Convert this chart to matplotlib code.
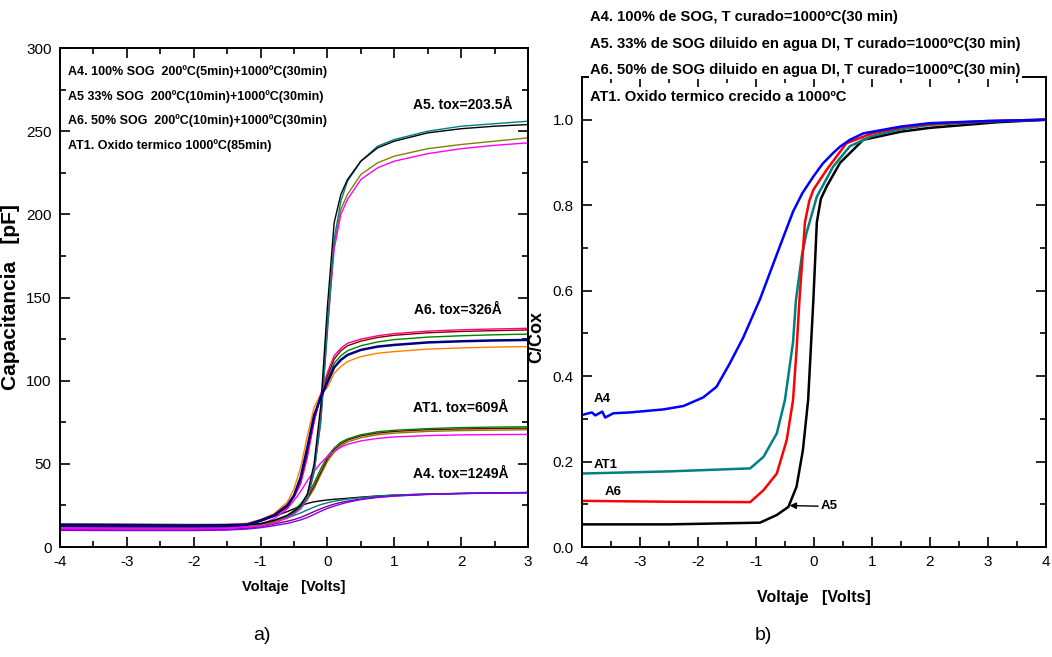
import numpy as np
import matplotlib
matplotlib.use('Agg')
import matplotlib.pyplot as plt
from matplotlib.ticker import MultipleLocator, FormatStrFormatter

plt.rcParams['font.family'] = ['Liberation Sans', 'DejaVu Sans']
plt.rcParams['axes.unicode_minus'] = False

# ---- (a) C-V curves, capacitance in pF ----
v_left = [-4, -3, -2, -1.5, -1.2, -1.0, -0.8, -0.6, -0.5, -0.4, -0.3, -0.2,
          -0.1, 0.0, 0.1, 0.2, 0.3, 0.5, 0.75, 1.0, 1.5, 2.0, 2.5, 3.0]

# A5 group (tox=203.5 A)
a5_black = [13.5, 13.3, 13.2, 13.3, 13.5, 14, 16, 19, 21.5, 25, 32, 50, 85, 145,
            195, 212, 221, 232, 240, 244, 249, 251.5, 253, 254]
a5_teal = [13.8, 13.6, 13.5, 13.5, 13.7, 14.2, 16, 18.5, 21, 24, 30, 45, 75, 130,
           185, 208, 220, 232, 241, 245, 250, 253, 254.5, 256]
a5_olive = [12.5, 12.3, 12.3, 12.4, 12.6, 13, 15, 18, 20.5, 24, 30, 46, 78, 135,
            182, 203, 212, 224, 231, 235, 239.5, 242, 244, 246]
a5_magenta = [12.0, 11.8, 11.8, 12, 12.2, 12.7, 14.5, 17.5, 20, 23, 29, 45, 76, 132,
              179, 200, 209, 221, 228, 232, 236.5, 239.5, 241.5, 243]

# A6 group (tox=326 A)
a6_pink = [14, 13.7, 13.5, 13.6, 14, 16, 19.5, 25.5, 30, 38, 54, 75, 92, 105,
           115, 119.5, 122.5, 125, 127, 128.3, 129.8, 130.6, 131.1, 131.5]
a6_darkred = [13.8, 13.5, 13.3, 13.4, 13.8, 15.5, 18.5, 24, 30, 40, 56, 76, 91, 103,
              113, 118, 121, 123.8, 126, 127.3, 128.8, 129.6, 130.1, 130.5]
a6_green = [13.2, 13.0, 12.9, 13.1, 13.6, 16, 19, 25, 31, 41, 58, 78, 91, 101,
            110.5, 115, 118, 121, 123.3, 124.7, 126.2, 127, 127.6, 128]
a6_navy = [12.8, 12.6, 12.5, 12.7, 13.4, 16, 19, 25, 31, 42, 60, 79, 90, 99,
           108, 112.5, 115.5, 118.5, 120.5, 121.5, 123, 123.7, 124.2, 124.5]
a6_orange = [13.5, 13.3, 13.2, 13.5, 14.3, 16.5, 20, 27, 35, 48, 67, 84, 92, 96,
             104.5, 108.5, 111.5, 114.5, 116.5, 117.5, 119, 119.7, 120.2, 120.5]

# AT1 group (tox=609 A)
at1_green = [12.5, 12.3, 12.2, 12.4, 12.8, 13.5, 15.5, 19, 22, 26, 31, 38.5, 47, 54.5,
             59.5, 63, 65, 67.5, 69.3, 70.2, 71.2, 71.8, 72.1, 72.3]
at1_darkred = [12.8, 12.6, 12.5, 12.6, 13, 13.5, 15.2, 18.5, 21, 24.5, 29.5, 36.5, 45, 53,
               58.5, 62, 64.3, 66.8, 68.5, 69.5, 70.5, 71, 71.3, 71.5]
at1_olive = [11.5, 11.3, 11.3, 11.5, 11.9, 12.6, 14.5, 17.5, 20, 23.5, 28.5, 35, 43.5, 51.5,
             57, 60.8, 63.2, 65.7, 67.5, 68.5, 69.5, 70, 70.3, 70.5]
at1_magenta = [11.0, 10.8, 10.8, 11.2, 12, 13.5, 17, 23, 28, 33.5, 40, 45.5, 50.5, 54.5,
               57.5, 60, 61.8, 63.8, 65.3, 66.2, 67, 67.4, 67.6, 67.7]

# A4 group (tox=1249 A)
a4_black = [11.5, 11.3, 11.3, 11.8, 13.2, 15.5, 18.5, 21.3, 23, 24.8, 26.2, 27.2, 27.8,
            28.3, 28.7, 29, 29.3, 30, 30.7, 31.2, 31.8, 32.2, 32.5, 32.7]
a4_teal = [10.3, 10.2, 10.2, 10.6, 11.6, 13, 15, 17.5, 19, 20.5, 22.3, 24, 25.5, 26.6,
           27.5, 28.2, 28.8, 29.7, 30.6, 31.2, 31.9, 32.3, 32.6, 32.8]
a4_purple = [10.5, 10.3, 10.3, 10.6, 11.3, 12.2, 13.8, 15.5, 16.5, 17.8, 19.5, 21.3, 23,
             24.5, 25.8, 26.8, 27.6, 28.9, 30, 30.8, 31.7, 32.2, 32.5, 32.7]
a4_violet = [10.0, 9.9, 9.9, 10.2, 10.8, 11.6, 12.8, 14.2, 15.2, 16.3, 17.8, 19.6, 21.5,
             23.2, 24.6, 25.8, 26.9, 28.5, 29.8, 30.6, 31.6, 32.1, 32.5, 32.7]

left_notes = ['A4. 100% SOG  200ºC(5min)+1000ºC(30min)',
              'A5 33% SOG  200ºC(10min)+1000ºC(30min)',
              'A6. 50% SOG  200ºC(10min)+1000ºC(30min)',
              'AT1. Oxido termico 1000ºC(85min)']
tox_labels = ['A5. tox=203.5Å', 'A6. tox=326Å', 'AT1. tox=609Å', 'A4. tox=1249Å']
tox_x = [2.76, 2.6, 2.7, 2.7]
tox_y = [266, 142.5, 83.6, 43.9]

# ---- (b) normalised C/Cox ----
v_a4 = [-4.0, -3.83, -3.77, -3.65, -3.6, -3.46, -3.17, -2.6, -2.25, -1.91, -1.68,
        -1.45, -1.22, -0.93, -0.59, -0.36, -0.2, -0.01, 0.15, 0.33, 0.45, 0.62, 0.85,
        1.5, 2.0, 3.0, 4.0]
r_a4 = [0.309, 0.315, 0.308, 0.317, 0.303, 0.313, 0.315, 0.322, 0.330, 0.350, 0.375,
        0.430, 0.490, 0.580, 0.703, 0.785, 0.828, 0.867, 0.897, 0.922, 0.937, 0.953,
        0.968, 0.984, 0.992, 0.997, 1.0]
v_at1 = [-4.0, -2.5, -1.1, -0.87, -0.64, -0.5, -0.36, -0.31, -0.21, -0.13, 0.05,
         0.33, 0.62, 1.0, 1.5, 2.0, 3.0, 4.0]
r_at1 = [0.172, 0.177, 0.184, 0.211, 0.266, 0.344, 0.48, 0.578, 0.68, 0.734, 0.82,
         0.89, 0.938, 0.962, 0.978, 0.988, 0.996, 1.0]
v_a6 = [-4.0, -2.5, -1.1, -0.87, -0.64, -0.47, -0.36, -0.3, -0.25, -0.155, -0.08,
        -0.01, 0.22, 0.56, 1.0, 1.5, 2.0, 3.0, 4.0]
r_a6 = [0.108, 0.106, 0.105, 0.133, 0.172, 0.25, 0.344, 0.461, 0.578, 0.76, 0.81,
        0.836, 0.883, 0.945, 0.968, 0.982, 0.99, 0.997, 1.0]
v_a5 = [-4.0, -2.5, -0.93, -0.64, -0.44, -0.3, -0.19, -0.1, -0.04, -0.01, 0.05,
        0.12, 0.22, 0.45, 0.62, 0.85, 1.5, 2.0, 3.15, 4.0]
r_a5 = [0.053, 0.053, 0.057, 0.075, 0.094, 0.141, 0.227, 0.344, 0.5, 0.578, 0.76,
        0.815, 0.844, 0.899, 0.922, 0.953, 0.972, 0.981, 0.994, 1.0]

right_notes = ['A4. 100% de SOG, T curado=1000ºC(30 min)',
               'A5. 33% de SOG diluido en agua DI, T curado=1000ºC(30 min)',
               'A6. 50% de SOG diluido en agua DI, T curado=1000ºC(30 min)',
               'AT1. Oxido termico crecido a 1000ºC']


def style_axes(ax):
    ax.tick_params(which='both', direction='in', top=True, right=True,
                   labelsize=11, width=1.2, pad=6)
    ax.tick_params(which='major', length=7)
    ax.tick_params(which='minor', length=4)
    for s in ax.spines.values():
        s.set_linewidth(1.4)


fig = plt.figure(figsize=(10.52, 6.57), dpi=100)

# (a)
ax = fig.add_axes([0.057, 0.1674, 0.445, 0.7595])
curves_left = [
    (a4_black, 'black'), (a4_teal, '#008080'), (a4_purple, '#800080'), (a4_violet, '#8000ff'),
    (at1_olive, '#808000'), (at1_darkred, '#800000'), (at1_green, '#008000'), (at1_magenta, '#ff00ff'),
    (a6_orange, '#ff8000'), (a6_green, '#008000'), (a6_darkred, '#800000'), (a6_pink, '#ff0080'),
    (a5_olive, '#808000'), (a5_magenta, '#ff00ff'), (a5_teal, '#008080'), (a5_black, 'black'),
]
for y, c in curves_left:
    ax.plot(v_left, y, color=c, lw=1.0)
ax.plot(v_left, a6_navy, color='#000080', lw=1.8)
ax.set_xlim(-4, 3)
ax.set_ylim(0, 300)
ax.xaxis.set_major_locator(MultipleLocator(1))
ax.xaxis.set_minor_locator(MultipleLocator(0.5))
ax.yaxis.set_major_locator(MultipleLocator(50))
ax.yaxis.set_minor_locator(MultipleLocator(25))
style_axes(ax)
ax.set_xlabel('Voltaje   [Volts]', fontsize=10.5, fontweight='bold', labelpad=8)
ax.set_ylabel('Capacitancia   [pF]', fontsize=15, fontweight='bold')
ax.yaxis.set_label_coords(-0.085, 0.501)
for i, t in enumerate(left_notes):
    ax.text(0.018, 0.952 - i * 0.049, t, transform=ax.transAxes, fontsize=9,
            fontweight='bold', va='center')
for t, xv, yv in zip(tox_labels, tox_x, tox_y):
    ax.text(xv, yv, t, fontsize=10, fontweight='bold', ha='right', va='center')

# (b)
bx = fig.add_axes([0.5532, 0.1674, 0.441, 0.7154])
bx.plot(v_a5, r_a5, color='black', lw=1.8)
bx.plot(v_at1, r_at1, color='#008080', lw=1.8)
bx.plot(v_a6, r_a6, color='red', lw=1.8)
bx.plot(v_a4, r_a4, color='blue', lw=1.8)
bx.set_xlim(-4, 4)
bx.set_ylim(0, 1.1)
bx.xaxis.set_major_locator(MultipleLocator(1))
bx.xaxis.set_minor_locator(MultipleLocator(0.5))
bx.yaxis.set_major_locator(MultipleLocator(0.2))
bx.yaxis.set_minor_locator(MultipleLocator(0.1))
bx.yaxis.set_major_formatter(FormatStrFormatter('%.1f'))
style_axes(bx)
bx.set_xlabel('Voltaje   [Volts]', fontsize=11.5, fontweight='bold', labelpad=15)
bx.set_ylabel('C/Cox', fontsize=13, fontweight='bold')
bx.yaxis.set_label_coords(-0.08, 0.447)
for t, xv, yv in [('A4', -3.8, 0.347), ('AT1', -3.8, 0.192), ('A6', -3.6, 0.129)]:
    bx.text(xv, yv, t, fontsize=9.5, fontweight='bold', va='center')
bx.annotate('A5', xy=(-0.42, 0.097), xytext=(0.12, 0.095), fontsize=9.5,
            fontweight='bold', va='center',
            arrowprops=dict(arrowstyle='-|>', color='black', lw=1.0, shrinkA=0, shrinkB=0))
for i, t in enumerate(right_notes):
    fig.text(590 / 1052, 1 - (17 + i * 26.7) / 657, t, fontsize=10.6, fontweight='bold',
             va='center', bbox=dict(facecolor='white', edgecolor='none', pad=1.0))

fig.text(262 / 1052, 1 - 635 / 657, 'a)', fontsize=14, ha='center', va='center')
fig.text(763 / 1052, 1 - 635 / 657, 'b)', fontsize=14, ha='center', va='center')

fig.savefig('out.png', dpi=100)
